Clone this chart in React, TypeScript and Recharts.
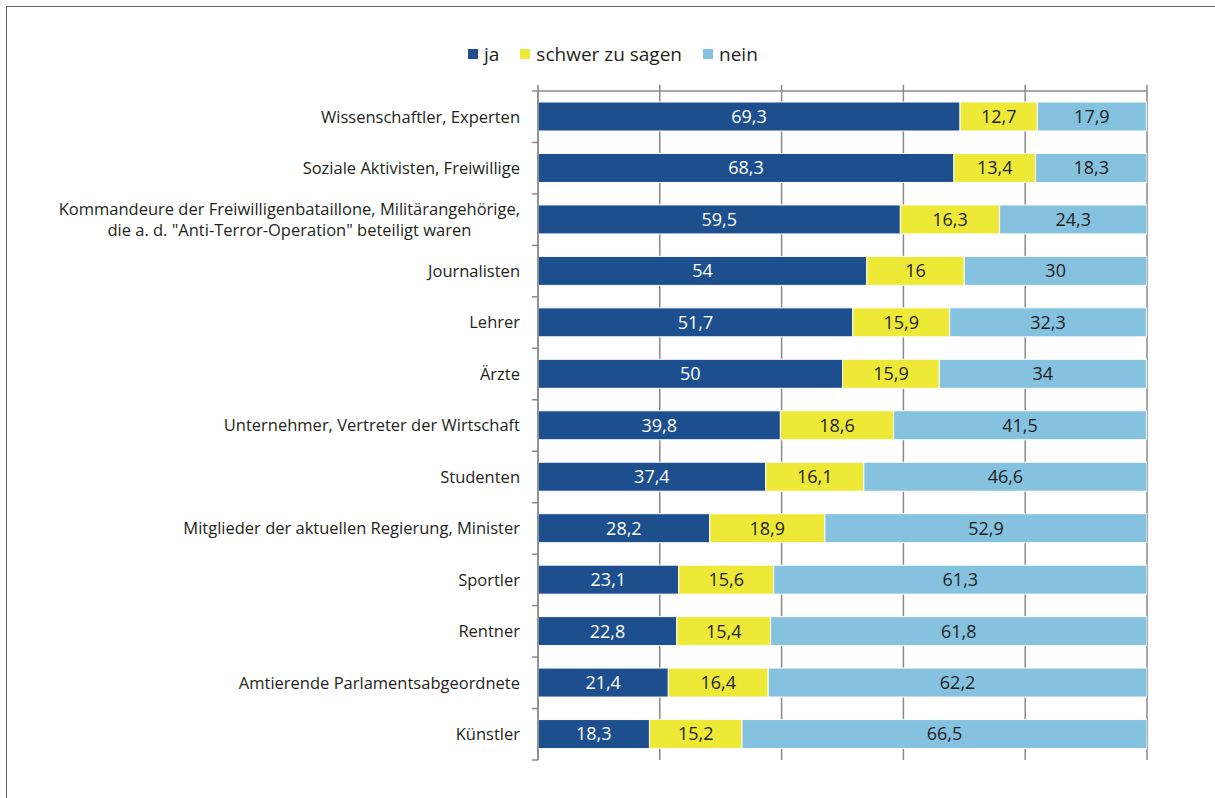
import React from "react";
import { BarChart, Bar, XAxis, YAxis, CartesianGrid, Legend, LabelList } from "recharts";

const categories = [
  "Wissenschaftler, Experten",
  "Soziale Aktivisten, Freiwillige",
  "Kommandeure der Freiwilligenbataillone, Militärangehörige,\ndie a. d. \"Anti-Terror-Operation\" beteiligt waren",
  "Journalisten",
  "Lehrer",
  "Ärzte",
  "Unternehmer, Vertreter der Wirtschaft",
  "Studenten",
  "Mitglieder der aktuellen Regierung, Minister",
  "Sportler",
  "Rentner",
  "Amtierende Parlamentsabgeordnete",
  "Künstler",
];
const jaValues = [69.3, 68.3, 59.5, 54, 51.7, 50, 39.8, 37.4, 28.2, 23.1, 22.8, 21.4, 18.3];
const schwerValues = [12.7, 13.4, 16.3, 16, 15.9, 15.9, 18.6, 16.1, 18.9, 15.6, 15.4, 16.4, 15.2];
const neinValues = [17.9, 18.3, 24.3, 30, 32.3, 34, 41.5, 46.6, 52.9, 61.3, 61.8, 62.2, 66.5];
const xTicks = [0, 20, 40, 60, 80, 100];
const seriesOrder = ["ja", "schwer zu sagen", "nein"];

const data = categories.map((name, i) => ({
  name,
  ja: jaValues[i],
  schwer: schwerValues[i],
  nein: neinValues[i],
}));

const WIDTH = 1215;
const HEIGHT = 798;
const PLOT_LEFT = 538;
const PLOT_TOP = 91;
const PLOT_RIGHT = 1147;
const PLOT_BOTTOM = 760;
const X_AXIS_H = 6;
const BAND = (PLOT_BOTTOM - PLOT_TOP) / categories.length;
const FONT = "'Open Sans', sans-serif";
const AXIS_GRAY = "#8a8a8a";
const TEXT = "#231f20";
const LABEL_SIZE = 16.5;

let ctx: CanvasRenderingContext2D | null = null;
function measure(text: string, size: number) {
  if (!ctx) ctx = document.createElement("canvas").getContext("2d");
  if (!ctx) return text.length * size * 0.5;
  ctx.font = `${size}px 'Open Sans', sans-serif`;
  return ctx.measureText(text).width;
}

function CategoryTick(props: any) {
  const { y, payload } = props;
  const lineH = 21;
  const lines = String(payload.value).split("\n");
  const right = PLOT_LEFT - 18;
  const multi = lines.length > 1;
  const maxW = Math.max(...lines.map((l) => measure(l, LABEL_SIZE)));
  const tx = multi ? right - maxW / 2 : right;
  const top = y - ((lines.length - 1) * lineH) / 2;
  const isLast = payload.value === categories[categories.length - 1];
  return (
    <g>
      <line x1={PLOT_LEFT - 6} x2={PLOT_LEFT} y1={y - BAND / 2} y2={y - BAND / 2} stroke={AXIS_GRAY} strokeWidth={1.5} />
      {isLast && (
        <line x1={PLOT_LEFT - 6} x2={PLOT_LEFT} y1={y + BAND / 2} y2={y + BAND / 2} stroke={AXIS_GRAY} strokeWidth={1.5} />
      )}
      <text x={tx} textAnchor={multi ? "middle" : "end"} fontSize={LABEL_SIZE} fontFamily={FONT} fill={TEXT}>
        {lines.map((l, i) => (
          <tspan key={i} x={tx} y={top + i * lineH} dy="0.35em">
            {l}
          </tspan>
        ))}
      </text>
    </g>
  );
}

function renderLegend(props: any) {
  const payload = [...(props.payload || [])].sort(
    (a: any, b: any) => seriesOrder.indexOf(a.value) - seriesOrder.indexOf(b.value)
  );
  return (
    <div style={{ display: "flex", alignItems: "center", fontFamily: FONT, fontSize: 19, color: TEXT }}>
      {payload.map((p: any) => (
        <div key={p.value} style={{ display: "flex", alignItems: "center", marginRight: 21 }}>
          <span style={{ width: 10, height: 10, background: p.color, marginRight: 6, display: "inline-block" }} />
          <span>{p.value}</span>
        </div>
      ))}
    </div>
  );
}

const fmt = (v: any) => String(v).replace(".", ",");

export default function App() {
  return (
    <div style={{ position: "absolute", left: 0, top: 0, width: WIDTH, height: HEIGHT, background: "#fff" }}>
      <div
        style={{
          position: "absolute",
          left: 6,
          top: 6,
          width: WIDTH,
          height: HEIGHT,
          borderTop: "1.5px solid #666",
          borderLeft: "1.5px solid #666",
        }}
      />
      <BarChart
        width={WIDTH}
        height={HEIGHT}
        data={data}
        layout="vertical"
        barSize={29}
        margin={{ top: PLOT_TOP - X_AXIS_H, right: WIDTH - PLOT_RIGHT, bottom: HEIGHT - PLOT_BOTTOM, left: 0 }}
      >
        <CartesianGrid vertical horizontal={false} stroke={AXIS_GRAY} strokeWidth={1.5} />
        <XAxis
          type="number"
          orientation="top"
          height={X_AXIS_H}
          domain={[0, 100]}
          ticks={xTicks}
          stroke={AXIS_GRAY}
          strokeWidth={1.5}
          tickSize={6}
          tick={() => <g />}
          allowDataOverflow
        />
        <YAxis
          type="category"
          dataKey="name"
          width={PLOT_LEFT}
          stroke={AXIS_GRAY}
          strokeWidth={1.5}
          tickLine={false}
          tick={<CategoryTick />}
          interval={0}
        />
        <Legend
          verticalAlign="middle"
          content={renderLegend}
          wrapperStyle={{ top: 41, left: 468, width: "auto" }}
        />
        <Bar dataKey="ja" name="ja" stackId="s" fill="#1d4f8f" stroke="#fff" strokeWidth={1} isAnimationActive={false}>
          <LabelList dataKey="ja" position="center" fill="#fff" fontSize={18} fontFamily={FONT} formatter={fmt} />
        </Bar>
        <Bar dataKey="schwer" name="schwer zu sagen" stackId="s" fill="#eee936" stroke="#fff" strokeWidth={1} isAnimationActive={false}>
          <LabelList dataKey="schwer" position="center" fill={TEXT} fontSize={18} fontFamily={FONT} formatter={fmt} />
        </Bar>
        <Bar dataKey="nein" name="nein" stackId="s" fill="#85c2df" stroke="#fff" strokeWidth={1} isAnimationActive={false}>
          <LabelList dataKey="nein" position="center" fill={TEXT} fontSize={18} fontFamily={FONT} formatter={fmt} />
        </Bar>
      </BarChart>
    </div>
  );
}
